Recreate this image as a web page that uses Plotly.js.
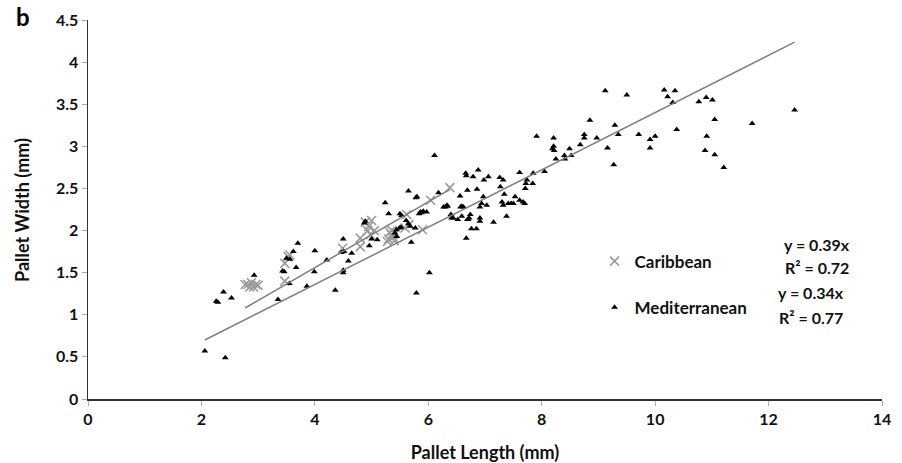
<!DOCTYPE html>
<html>
<head>
<meta charset="utf-8">
<script src="https://cdn.plot.ly/plotly-3.0.1.min.js"></script>
<style>html,body{margin:0;padding:0;background:#fff;}#chart{width:902px;height:463px;}</style>
</head>
<body>
<div id="chart"></div>
<script>
// Caribbean data (Pallet Length mm, Pallet Width mm)
const caribX = [2.77,2.82,2.85,2.88,2.92,2.96,3.00,3.47,3.47,3.53,3.56,4.49,4.80,4.80,4.89,4.93,4.95,4.98,5.00,5.05,5.28,5.30,5.32,5.35,5.36,5.38,5.40,5.42,5.59,5.62,5.66,5.90,6.04,6.38];
const caribY = [1.36,1.36,1.33,1.38,1.33,1.36,1.35,1.40,1.61,1.69,1.71,1.79,1.91,1.81,2.10,2.00,2.05,1.95,2.12,2.00,1.87,1.90,1.98,1.95,2.00,1.92,1.88,1.97,2.03,2.19,2.07,2.01,2.36,2.51];

// Mediterranean data
const medX = [2.06,2.42,2.26,2.29,2.39,2.53,2.93,3.35,3.70,3.62,3.50,3.56,3.43,3.46,3.67,3.55,4.00,3.99,3.86,4.21,4.36,
  6.11,4.89,4.87,4.50,4.47,4.51,4.59,4.65,4.50,4.50,4.96,5.00,5.10,5.24,5.30,5.50,5.53,5.65,5.80,5.61,5.65,5.77,5.70,5.44,5.41,5.44,5.49,5.52,5.68,
  5.86,5.91,5.97,5.84,5.88,5.78,6.18,6.27,6.30,6.33,6.34,6.40,6.41,6.44,6.52,6.59,6.56,6.57,6.59,6.62,6.66,6.67,6.69,6.69,6.72,6.74,6.79,6.88,6.86,6.76,6.85,6.67,6.70,
  6.91,6.91,6.94,7.03,6.97,6.91,6.98,7.06,7.15,7.26,7.27,7.30,7.32,7.32,7.34,7.38,7.41,7.46,7.50,7.53,7.61,7.67,7.70,7.61,7.71,7.72,7.74,7.84,7.85,7.91,8.05,
  8.19,8.21,8.22,8.21,8.25,8.40,8.41,8.49,8.52,8.68,8.75,8.75,8.85,8.97,9.16,9.27,9.29,9.35,9.12,9.50,9.71,9.91,10.00,9.91,10.16,10.35,10.22,10.31,10.38,
  10.77,10.90,11.01,11.05,10.91,10.88,11.05,11.21,11.71,12.46,6.02,5.79];
const medY = [0.57,0.49,1.16,1.15,1.27,1.20,1.47,1.18,1.85,1.75,1.67,1.66,1.52,1.51,1.56,1.37,1.76,1.51,1.34,1.65,1.29,
  2.89,2.11,2.09,1.90,1.74,1.75,1.64,1.73,1.50,1.53,1.82,1.90,1.89,2.33,2.20,2.20,2.18,2.47,2.40,2.12,2.08,2.03,1.86,1.93,1.97,2.01,2.03,2.04,2.05,
  2.22,2.23,2.22,2.20,2.21,2.39,2.45,2.28,2.28,2.30,2.29,2.19,2.15,2.15,2.13,2.17,2.41,2.28,2.29,2.28,2.68,2.65,2.48,2.13,2.15,2.19,2.64,2.72,2.49,2.02,2.02,1.91,2.13,
  2.15,2.28,2.32,2.30,2.40,2.11,2.60,2.64,2.10,2.63,2.52,2.34,2.30,2.60,2.43,2.17,2.32,2.32,2.32,2.40,2.36,2.34,2.32,2.69,2.50,2.56,2.60,2.56,2.68,3.12,2.70,
  2.97,3.00,2.95,3.10,2.85,2.89,2.85,2.97,2.89,3.02,3.14,3.10,3.31,3.10,2.98,2.78,3.25,3.14,3.66,3.61,3.14,3.08,3.12,2.98,3.67,3.66,3.59,3.52,3.20,
  3.53,3.58,3.55,3.32,3.12,2.95,2.90,2.75,3.27,3.43,1.50,1.26];

// Trendline slopes (through origin)
const caribSlope = 0.39, medSlope = 0.34;
const caribEq = ['y = 0.39x', 'R² = 0.72'];
const medEq = ['y = 0.34x', 'R² = 0.77'];
const xTitle = 'Pallet Length (mm)';
const yTitle = 'Pallet Width (mm)';

const cMin = Math.min(...caribX), cMax = Math.max(...caribX);
const mMin = Math.min(...medX), mMax = Math.max(...medX);

const FONT = 'Lato, "Open Sans", "Liberation Sans", sans-serif';

const traces = [
  {x: caribX, y: caribY, type: 'scatter', mode: 'markers', name: 'Caribbean', legendgroup: 'carib',
   marker: {symbol: 'x-thin-open', size: 9, color: '#9a9a9a', line: {color: '#9a9a9a', width: 1.6}}},
  {x: medX, y: medY, type: 'scatter', mode: 'markers', name: 'Mediterranean', legendgroup: 'med',
   marker: {symbol: 'triangle-up', size: 6, color: '#000000'}},
  {x: [cMin, cMax], y: [cMin*caribSlope, cMax*caribSlope], type: 'scatter', mode: 'lines', showlegend: false,
   legendgroup: 'carib', line: {color: '#7f7f7f', width: 1.5}, hoverinfo: 'skip'},
  {x: [mMin, mMax], y: [mMin*medSlope, mMax*medSlope], type: 'scatter', mode: 'lines', showlegend: false,
   legendgroup: 'med', line: {color: '#7f7f7f', width: 1.5}, hoverinfo: 'skip'}
];

const annFont = {family: FONT, size: 16, color: '#111', weight: 'bold'};
const layout = {
  width: 902, height: 463,
  margin: {l: 88, r: 20, t: 20, b: 64},
  paper_bgcolor: '#fff', plot_bgcolor: '#fff',
  font: {family: FONT, color: '#111'},
  showlegend: true,
  legend: {x: 0.638, y: 0.41, xanchor: 'left', yanchor: 'top', bgcolor: 'rgba(0,0,0,0)',
           font: {family: FONT, size: 17, color: '#111', weight: 'bold'}, tracegroupgap: 21,
           traceorder: 'grouped', itemwidth: 30},
  xaxis: {range: [0, 14], dtick: 2, tick0: 0, showgrid: false, zeroline: false,
          showline: true, linecolor: '#333', linewidth: 1.5, ticks: 'outside', ticklen: 5, tickcolor: '#aaa',
          tickfont: {family: FONT, size: 16, color: '#111', weight: 'bold'},
          title: {text: xTitle, font: {family: FONT, size: 18, color: '#111', weight: 'bold'}, standoff: 20}},
  yaxis: {range: [0, 4.5], dtick: 0.5, tick0: 0, showgrid: false, zeroline: false,
          showline: true, linecolor: '#333', linewidth: 1.5, ticks: 'outside', ticklen: 5, tickcolor: '#aaa',
          tickfont: {family: FONT, size: 16, color: '#111', weight: 'bold'}},
  annotations: [
    {xref: 'paper', yref: 'paper', x: -0.082, y: 1.01, xanchor: 'center', yanchor: 'middle', showarrow: false,
     text: 'b', font: {family: FONT, size: 24, color: '#000', weight: 'bold'}},
    {xref: 'paper', yref: 'paper', x: -0.083, y: 0.499, xanchor: 'center', yanchor: 'middle', showarrow: false,
     textangle: -90, text: yTitle, font: {family: FONT, size: 18, color: '#111', weight: 'bold'}},
    {xref: 'x', yref: 'y', x: 12.85, y: 1.84, showarrow: false, text: caribEq[0], font: annFont},
    {xref: 'x', yref: 'y', x: 12.85, y: 1.56, showarrow: false, text: caribEq[1], font: annFont},
    {xref: 'x', yref: 'y', x: 12.74, y: 1.27, showarrow: false, text: medEq[0], font: annFont},
    {xref: 'x', yref: 'y', x: 12.74, y: 0.97, showarrow: false, text: medEq[1], font: annFont}
  ]
};

Plotly.newPlot('chart', traces, layout, {displayModeBar: false, staticPlot: true});
</script>
</body>
</html>
